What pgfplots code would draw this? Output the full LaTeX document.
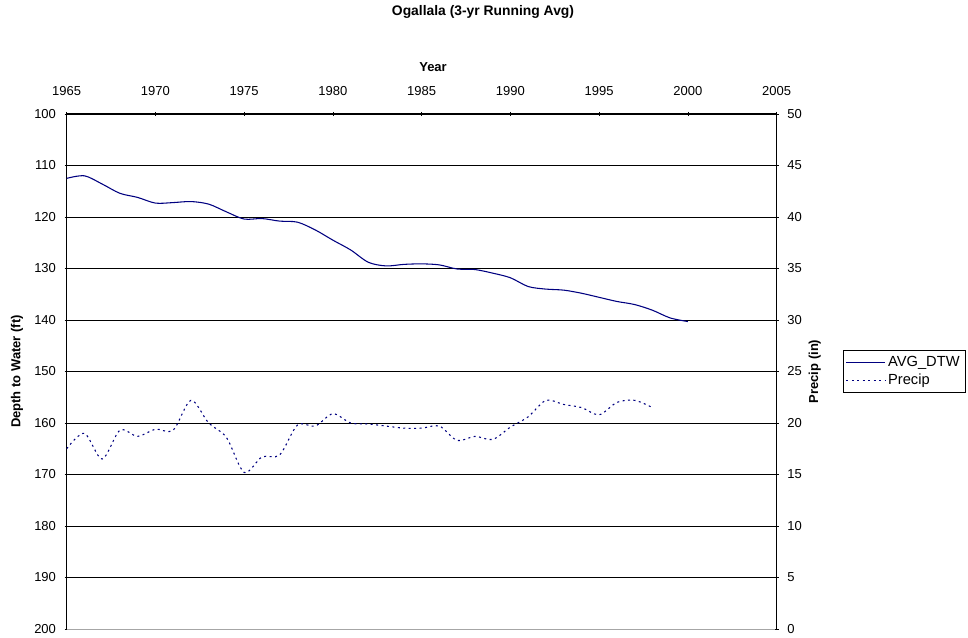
\documentclass[border=0pt]{standalone}
\usepackage{pgfplots}
\pgfplotsset{compat=1.18}
\usepackage{fontspec}
\setmainfont{Liberation Sans}
\definecolor{navy}{RGB}{0,0,128}
\newcommand\fs{\fontsize{9.75}{11}\selectfont}

\pgfplotsset{
  base/.style={
    scale only axis, width=532.5pt, height=386.25pt,
    at={(50pt,6.75pt)}, anchor=south west,
    xmin=1965, xmax=2005,
    tick align=outside, major tick length=3pt,
    tick style={black, line width=0.6pt},
    ticklabel style={font=\fs},
    /pgf/number format/assume math mode=true,
    /pgf/number format/1000 sep={},
  },
  nohead/.style={
    axis line style={-, black, line width=0.75pt},
    every outer x axis line/.append style={-},
    every outer y axis line/.append style={-},
  }
}

\begin{document}
\begin{tikzpicture}
\useasboundingbox (0,0) rectangle (726pt,478.5pt);
\node[font=\fontsize{10.4}{12}\selectfont\bfseries] at (362.25pt,469.5pt) {Ogallala (3-yr Running Avg)};

\begin{axis}[base,
  axis x line=top, axis y line=left, nohead,
  xtick={1965,1970,...,2005},
  xticklabel style={yshift=9pt},
  xlabel={Year},
  every axis x label/.style={at={(axis description cs:0.516,1)}, anchor=center, yshift=35.25pt, font=\fs\bfseries},
  ymin=100, ymax=200, y dir=reverse,
  ytick={100,110,...,200},
  yticklabel style={xshift=-3pt},
  ymajorgrids, grid style={black, line width=0.6pt},
  ylabel={Depth to Water (ft)},
  every axis y label/.style={at={(axis description cs:0,0.5)}, xshift=-37.3pt, rotate=90, anchor=center, font=\fs\bfseries},
]
\addplot[navy, line width=0.8pt, smooth] coordinates {
 (1965,112.5) (1966,112.0) (1967,113.6) (1968,115.4) (1969,116.2) (1970,117.3)
 (1971,117.2) (1972,117.0) (1973,117.5) (1974,119.0) (1975,120.4) (1976,120.3)
 (1977,120.8) (1978,121.0) (1979,122.5) (1980,124.5) (1981,126.4) (1982,128.8)
 (1983,129.5) (1984,129.2) (1985,129.1) (1986,129.3) (1987,130.1) (1988,130.2)
 (1989,130.9) (1990,131.8) (1991,133.5) (1992,134.0) (1993,134.2) (1994,134.8)
 (1995,135.6) (1996,136.4) (1997,137.0) (1998,138.1) (1999,139.6) (2000,140.3)
};
\draw[gray!70, line width=0.75pt] (axis cs:1965,200) -- (axis cs:2005,200);
\end{axis}

\begin{axis}[base,
  axis x line=none, axis y line=right, nohead,
  ymin=0, ymax=50, ytick={0,5,...,50},
  yticklabel style={xshift=3pt},
  ylabel={Precip (in)},
  every axis y label/.style={at={(axis description cs:1,0.5)}, xshift=28.5pt, rotate=90, anchor=center, font=\fs\bfseries},
  legend style={at={(1.093,0.5)}, anchor=west, draw=black, line width=0.6pt,
    font=\fontsize{11}{12.5}\selectfont, inner sep=2pt, row sep=0.5pt},
  legend cell align=left,
  legend image code/.code={\draw[#1] (0pt,0pt) -- (29pt,0pt);},
]
\addlegendimage{navy, line width=0.8pt}
\addlegendentry{AVG\_DTW}
\addplot[navy, line width=0.8pt, dash pattern=on 1.5pt off 2.6pt, smooth] coordinates {
 (1965,17.5) (1966,19.0) (1967,16.5) (1968,19.3) (1969,18.7) (1970,19.4)
 (1971,19.3) (1972,22.2) (1973,20.0) (1974,18.6) (1975,15.2) (1976,16.7)
 (1977,16.9) (1978,19.8) (1979,19.7) (1980,20.9) (1981,20.0) (1982,19.9)
 (1983,19.7) (1984,19.5) (1985,19.5) (1986,19.7) (1987,18.3) (1988,18.7)
 (1989,18.4) (1990,19.6) (1991,20.6) (1992,22.2) (1993,21.8) (1994,21.5)
 (1995,20.8) (1996,22.0) (1997,22.2) (1998,21.5)
};
\addlegendentry{Precip}
\end{axis}
\end{tikzpicture}
\end{document}
